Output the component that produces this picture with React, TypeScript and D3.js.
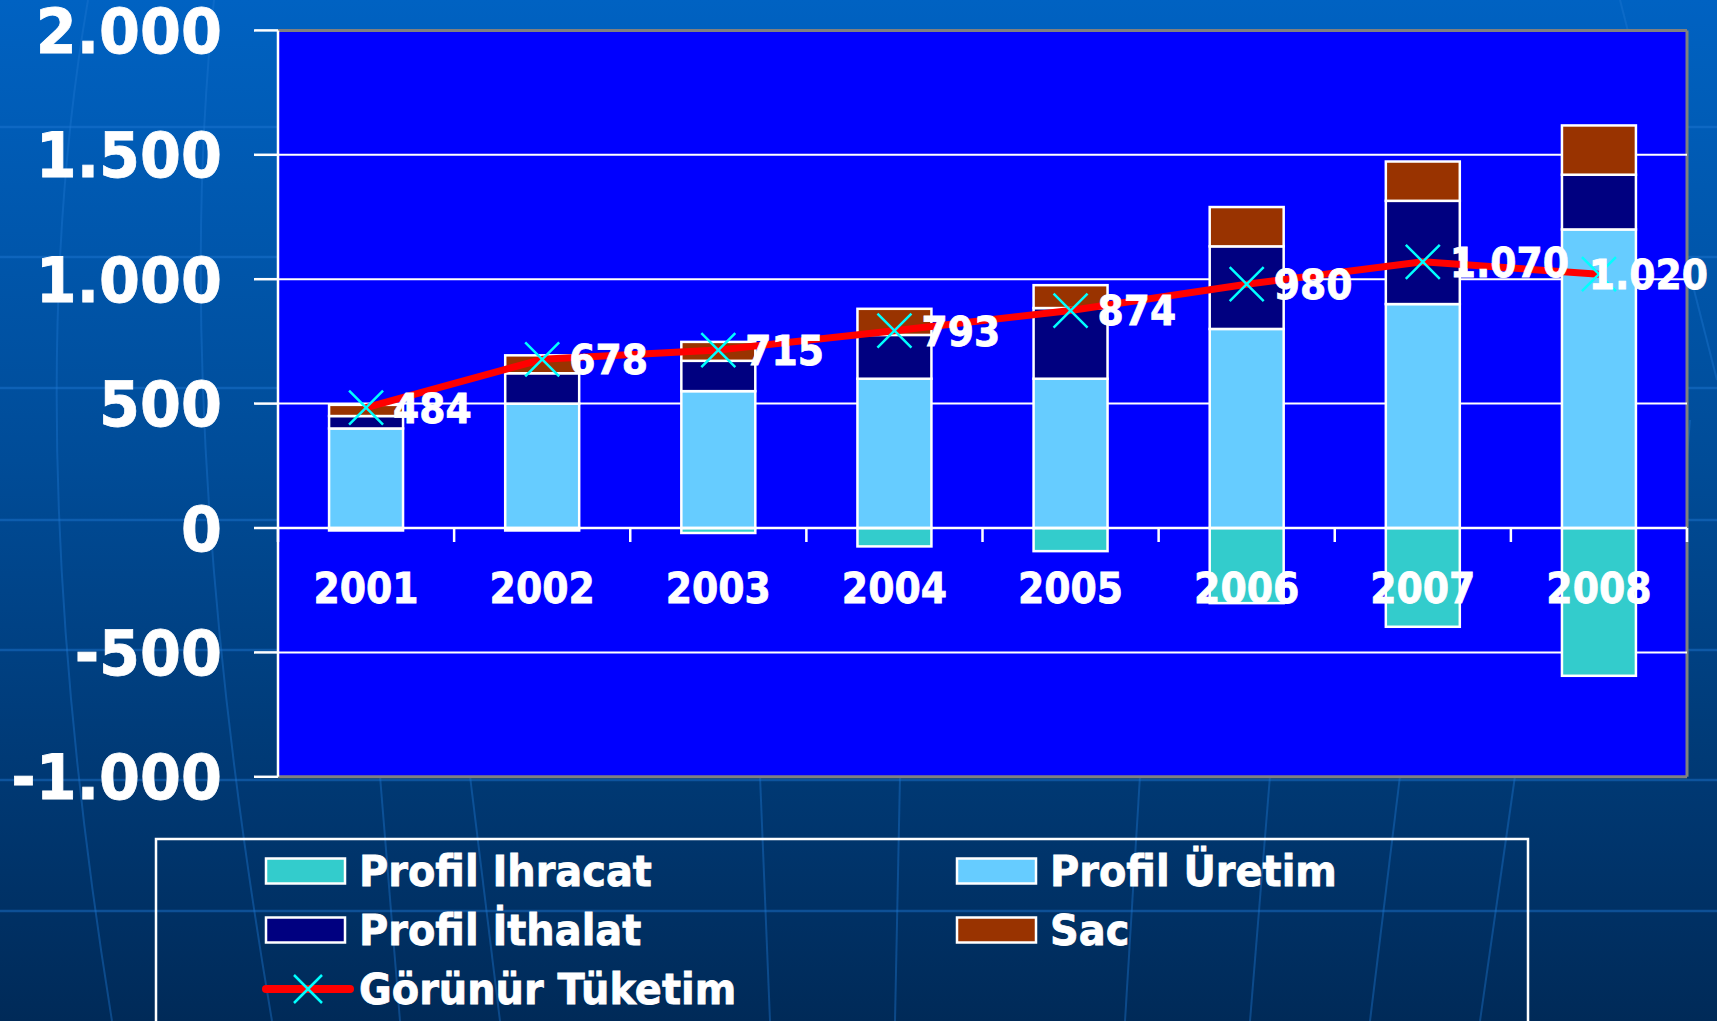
import React, { useEffect } from "react";
import * as d3 from "d3";

const years = ["2001", "2002", "2003", "2004", "2005", "2006", "2007", "2008"];
const profilIhracat = [-10, -10, -20, -74, -93, -302, -397, -594];
const profilUretim = [400, 500, 550, 600, 600, 800, 900, 1200];
const profilIthalat = [50, 122, 122, 176, 284, 332, 415, 220];
const sac = [45, 72, 76, 105, 92, 158, 158, 198];
const gorunurTuketim = [484, 678, 715, 793, 874, 980, 1070, 1020];
const yTicks = [-1000, -500, 0, 500, 1000, 1500, 2000];
const seriesNames = ["Profil Ihracat", "Profil Üretim", "Profil İthalat", "Sac", "Görünür Tüketim"];

const W = 1717;
const H = 1021;
const FONT = "'DejaVu Sans', Verdana, Tahoma, sans-serif";

const COLORS = {
  ihracat: "#33CCCC",
  uretim: "#66CCFF",
  ithalat: "#000080",
  sac: "#993300",
  line: "#FF0000",
  marker: "#00FFFF",
  plot: "#0000FF",
};

const loc = d3.formatLocale({ decimal: ",", thousands: ".", grouping: [3], currency: ["", ""], minus: "-" });
const fmt = loc.format(",");

function Txt({ x, y, size, anchor = "start", sx = 0.9, children }: any) {
  return (
    <text
      transform={`translate(${x},${y}) scale(${sx},1)`}
      fontFamily={FONT}
      fontWeight="bold"
      fontSize={size}
      fill="#FFFFFF"
      stroke="#FFFFFF"
      strokeWidth={0.8}
      textAnchor={anchor}
    >
      {children}
    </text>
  );
}

export default function App() {
  useEffect(() => {
    document.body.style.margin = "0";
    document.body.style.overflow = "hidden";
  }, []);

  const left = 278;
  const right = 1687;
  const top = 30.4;
  const bottom = 776.8;

  const x = d3.scaleBand<string>().domain(years).range([left, right]).paddingInner(0).paddingOuter(0);
  const y = d3.scaleLinear().domain([-1000, 2000]).range([bottom, top]);
  const bw = x.bandwidth() * 0.42;
  const cx = (i: number) => (x(years[i]) as number) + x.bandwidth() / 2;

  const segs: { i: number; v0: number; v1: number; color: string }[] = [];
  years.forEach((_, i) => {
    segs.push({ i, v0: 0, v1: profilIhracat[i], color: COLORS.ihracat });
    segs.push({ i, v0: 0, v1: profilUretim[i], color: COLORS.uretim });
    segs.push({ i, v0: profilUretim[i], v1: profilUretim[i] + profilIthalat[i], color: COLORS.ithalat });
    segs.push({
      i,
      v0: profilUretim[i] + profilIthalat[i],
      v1: profilUretim[i] + profilIthalat[i] + sac[i],
      color: COLORS.sac,
    });
  });

  const line = d3
    .line<number>()
    .x((_, i) => cx(i))
    .y((d) => y(d));

  const labelSize = 41;
  const labelW = (s: string) => {
    let w = 0;
    for (const ch of s) w += ch === "." ? 0.38 : 0.696;
    return w * 0.92 * labelSize;
  };

  const boundaries = d3.range(years.length + 1).map((k) => left + k * x.bandwidth());

  // decorative background meridians
  const hLines = [127, 257, 388, 520, 650, 780, 911];
  const meridians = [
    "M 88 0 Q 15 420 112 1021",
    "M 214 0 Q 170 420 272 1021",
    "M 380 776 L 400 1021",
    "M 470 776 L 500 1021",
    "M 760 776 L 770 1021",
    "M 900 776 L 895 1021",
    "M 1140 776 L 1125 1021",
    "M 1270 776 L 1250 1021",
    "M 1400 776 L 1370 1021",
    "M 1515 776 L 1480 1021",
    "M 1620 0 L 1717 380",
    "M 1690 420 L 1660 776",
  ];

  const legendRows = [
    { x: 266, y: 871, name: seriesNames[0], color: COLORS.ihracat },
    { x: 957, y: 871, name: seriesNames[1], color: COLORS.uretim },
    { x: 266, y: 930, name: seriesNames[2], color: COLORS.ithalat },
    { x: 957, y: 930, name: seriesNames[3], color: COLORS.sac },
  ];

  return (
    <svg width={W} height={H} style={{ position: "absolute", left: 0, top: 0, display: "block" }}>
      <defs>
        <linearGradient id="bg" x1="0" y1="0" x2="0" y2="1">
          <stop offset="0" stopColor="#0062C2" />
          <stop offset="0.45" stopColor="#004C98" />
          <stop offset="1" stopColor="#002A58" />
        </linearGradient>
      </defs>
      <rect x={0} y={0} width={W} height={H} fill="url(#bg)" />
      {hLines.map((hy) => (
        <line key={hy} x1={0} x2={W} y1={hy} y2={hy} stroke="#1E78D2" strokeOpacity={0.45} strokeWidth={2.5} />
      ))}
      {meridians.map((d, k) => (
        <path key={k} d={d} fill="none" stroke="#1E78D2" strokeOpacity={0.4} strokeWidth={2} />
      ))}

      {/* plot area */}
      <rect x={left} y={top} width={right - left} height={bottom - top} fill={COLORS.plot} />
      <line x1={left} x2={right} y1={top} y2={top} stroke="#808080" strokeWidth={3} />
      <line x1={right} x2={right} y1={top} y2={bottom} stroke="#808080" strokeWidth={3} />
      <line x1={left} x2={right} y1={bottom} y2={bottom} stroke="#808080" strokeWidth={3} />

      {/* gridlines */}
      {yTicks
        .filter((t) => t > -1000 && t < 2000 && t !== 0)
        .map((t) => (
          <line key={t} x1={left} x2={right} y1={y(t)} y2={y(t)} stroke="#FFFFFF" strokeWidth={2} />
        ))}

      {/* bars */}
      {segs.map((s, k) => {
        const y0 = y(Math.max(s.v0, s.v1));
        const y1 = y(Math.min(s.v0, s.v1));
        return (
          <rect
            key={k}
            x={cx(s.i) - bw / 2}
            y={y0}
            width={bw}
            height={Math.max(0, y1 - y0)}
            fill={s.color}
            stroke="#FFFFFF"
            strokeWidth={2.5}
          />
        );
      })}

      {/* zero axis */}
      <line x1={left} x2={right} y1={y(0)} y2={y(0)} stroke="#FFFFFF" strokeWidth={2.5} />
      {boundaries.map((bx, k) => (
        <line key={k} x1={bx} x2={bx} y1={y(0)} y2={y(0) + 14} stroke="#FFFFFF" strokeWidth={2.5} />
      ))}

      {/* y axis */}
      <line x1={left} x2={left} y1={top} y2={bottom} stroke="#FFFFFF" strokeWidth={2.5} />
      {yTicks.map((t) => (
        <g key={t}>
          <line x1={left - 24} x2={left} y1={y(t)} y2={y(t)} stroke="#FFFFFF" strokeWidth={2.5} />
          <Txt x={222} y={y(t) + 0.364 * 62} size={62} anchor="end" sx={0.95}>
            {fmt(t)}
          </Txt>
        </g>
      ))}

      {/* x labels */}
      {years.map((yr, i) => (
        <Txt key={yr} x={cx(i)} y={588 + 0.364 * 42} size={42} anchor="middle">
          {yr}
        </Txt>
      ))}

      {/* consumption line */}
      <path d={line(gorunurTuketim) || ""} fill="none" stroke={COLORS.line} strokeWidth={7} strokeLinejoin="round" strokeLinecap="round" />
      {gorunurTuketim.map((v, i) => {
        const px = cx(i);
        const py = y(v);
        const r = 17;
        return (
          <path
            key={i}
            d={`M${px - r},${py - r}L${px + r},${py + r}M${px - r},${py + r}L${px + r},${py - r}`}
            stroke={COLORS.marker}
            strokeWidth={2.5}
            fill="none"
          />
        );
      })}
      {gorunurTuketim.map((v, i) => {
        const s = fmt(v);
        const w = labelW(s);
        let lx = cx(i) + 27;
        if (lx + w > W - 9) lx = W - 9 - w;
        return (
          <Txt key={i} x={lx} y={y(v) + 0.364 * labelSize} size={labelSize} sx={0.92}>
            {s}
          </Txt>
        );
      })}

      {/* legend */}
      <rect x={156} y={839} width={1372} height={260} fill="none" stroke="#FFFFFF" strokeWidth={2.5} />
      {legendRows.map((r) => (
        <g key={r.name}>
          <rect x={r.x} y={r.y - 12.5} width={79} height={25} fill={r.color} stroke="#FFFFFF" strokeWidth={2.5} />
          <Txt x={r.x + 93} y={r.y + 0.364 * 42} size={42} sx={0.95}>
            {r.name}
          </Txt>
        </g>
      ))}
      <g>
        <line x1={266} x2={350} y1={989} y2={989} stroke={COLORS.line} strokeWidth={8} strokeLinecap="round" />
        <path d={`M${308 - 14},${989 - 14}L${308 + 14},${989 + 14}M${308 - 14},${989 + 14}L${308 + 14},${989 - 14}`} stroke={COLORS.marker} strokeWidth={2.5} fill="none" />
        <Txt x={359} y={989 + 0.364 * 42} size={42} sx={0.95}>
          {seriesNames[4]}
        </Txt>
      </g>
    </svg>
  );
}
